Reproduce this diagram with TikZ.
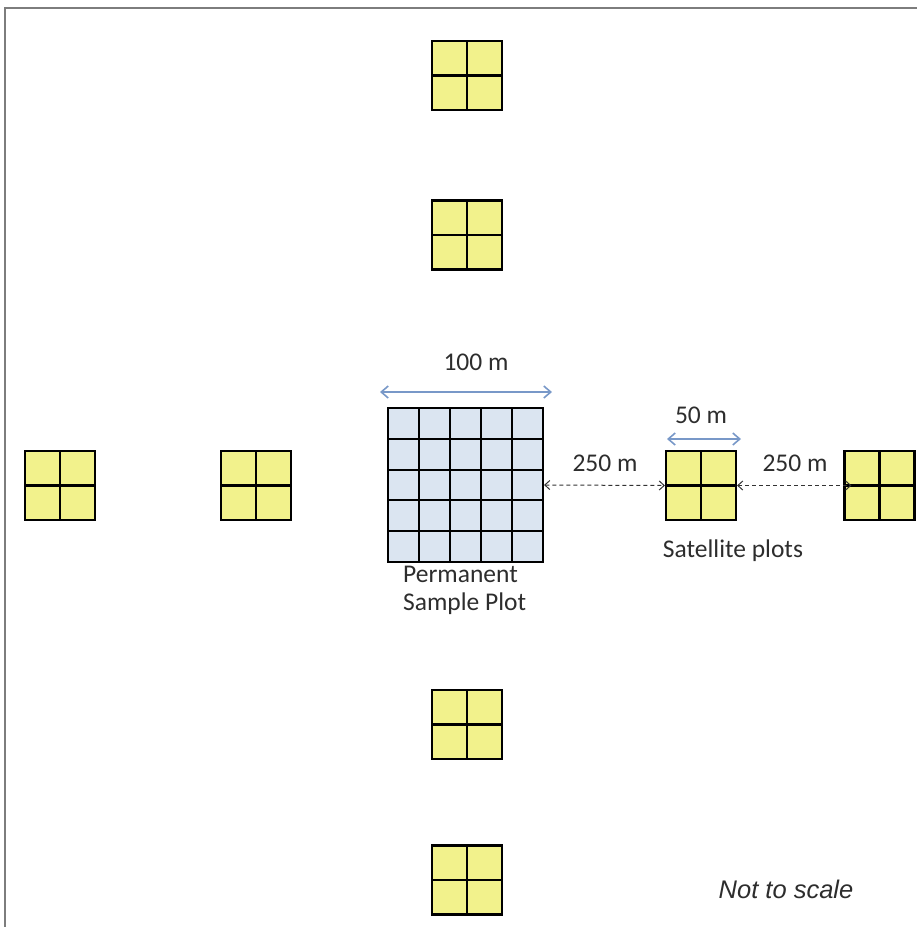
\documentclass[tikz,border=0pt]{standalone}
\usepackage{fontspec}
\setmainfont{Carlito}
\newfontfamily\arialfont{Liberation Sans}
\usetikzlibrary{arrows.meta,calc}
\definecolor{satyellow}{RGB}{242,242,140}
\definecolor{pspblue}{RGB}{219,229,241}
\definecolor{dimblue}{RGB}{120,152,200}
\definecolor{txtgray}{RGB}{45,45,45}
\definecolor{framegray}{RGB}{125,125,125}
\begin{document}
\begin{tikzpicture}[x=1pt,y=1pt,
  sat/.style={draw=black, line width=2.1pt, fill=satyellow, minimum width=70pt, minimum height=69pt, inner sep=0pt,
    path picture={\draw[line width=2.1pt] (path picture bounding box.north) -- (path picture bounding box.south)
      (path picture bounding box.west) -- (path picture bounding box.east);}},
  psp/.style={draw=black, line width=2.1pt, fill=pspblue, minimum width=155pt, minimum height=154pt, inner sep=0pt,
    path picture={\foreach \k in {1,2,3,4}{
      \draw[line width=2.1pt] ($(path picture bounding box.south west)!\k/5!(path picture bounding box.south east)$) -- ($(path picture bounding box.north west)!\k/5!(path picture bounding box.north east)$);
      \draw[line width=2.1pt] ($(path picture bounding box.south west)!\k/5!(path picture bounding box.north west)$) -- ($(path picture bounding box.south east)!\k/5!(path picture bounding box.north east)$);}}},
  lbl/.style={font=\fontsize{25.5}{28}\selectfont, text=txtgray, inner sep=0pt},
  dimarrow/.style={draw=dimblue, line width=1.6pt, {Straight Barb[length=7pt,width=12pt]}-{Straight Barb[length=7pt,width=12pt]}},
  gaparrow/.style={draw=black!80, line width=1pt, dash pattern=on 4pt off 3pt, {Straight Barb[length=5pt,width=9pt]}-{Straight Barb[length=5pt,width=9pt]}}
]
\useasboundingbox (0,0) rectangle (917,-927);
% frame
\draw[framegray, line width=1.5pt] (5,-927) -- (5,-8) -- (917,-8);
% plots
\node[sat] (top1) at (467,-75.5) {};
\node[sat] (top2) at (467,-235) {};
\node[sat] (left1) at (60,-485.5) {};
\node[sat] (left2) at (256,-485.5) {};
\node[psp] (psp) at (465.5,-485) {};
\node[sat] (right1) at (701,-485.5) {};
\node[sat] (right2) at (879.5,-485.5) {};
\node[sat] (bot1) at (467,-724.5) {};
\node[sat] (bot2) at (467,-880) {};
% dimension arrows
\coordinate (d1a) at (380,-392);
\coordinate (d1b) at (552,-392);
\draw[dimarrow] (d1a) -- (d1b);
\node[lbl] (l100) at (476,-362) {100 m};
\coordinate (d2a) at (667,-439);
\coordinate (d2b) at (741,-439);
\draw[dimarrow] (d2a) -- (d2b);
\node[lbl] (l50) at (701,-415) {50 m};
% gap arrows
\draw[gaparrow] (psp.east) -- (right1.west);
\coordinate (r2in) at ([xshift=8pt]right2.west);
\draw[gaparrow] (right1.east) -- (r2in);
\node[lbl] (g1) at (605,-463) {250 m};
\node[lbl] (g2) at (795,-463) {250 m};
% labels
\node[lbl] (sat) at (733,-551) {Satellite plots};
\node[lbl, align=left, anchor=north west] (psplbl) at (403,-566) {Permanent\\Sample Plot};
\node[lbl, font=\arialfont\itshape\fontsize{25.5}{28}\selectfont] (nts) at (786,-889) {Not to scale};
\end{tikzpicture}
\end{document}
